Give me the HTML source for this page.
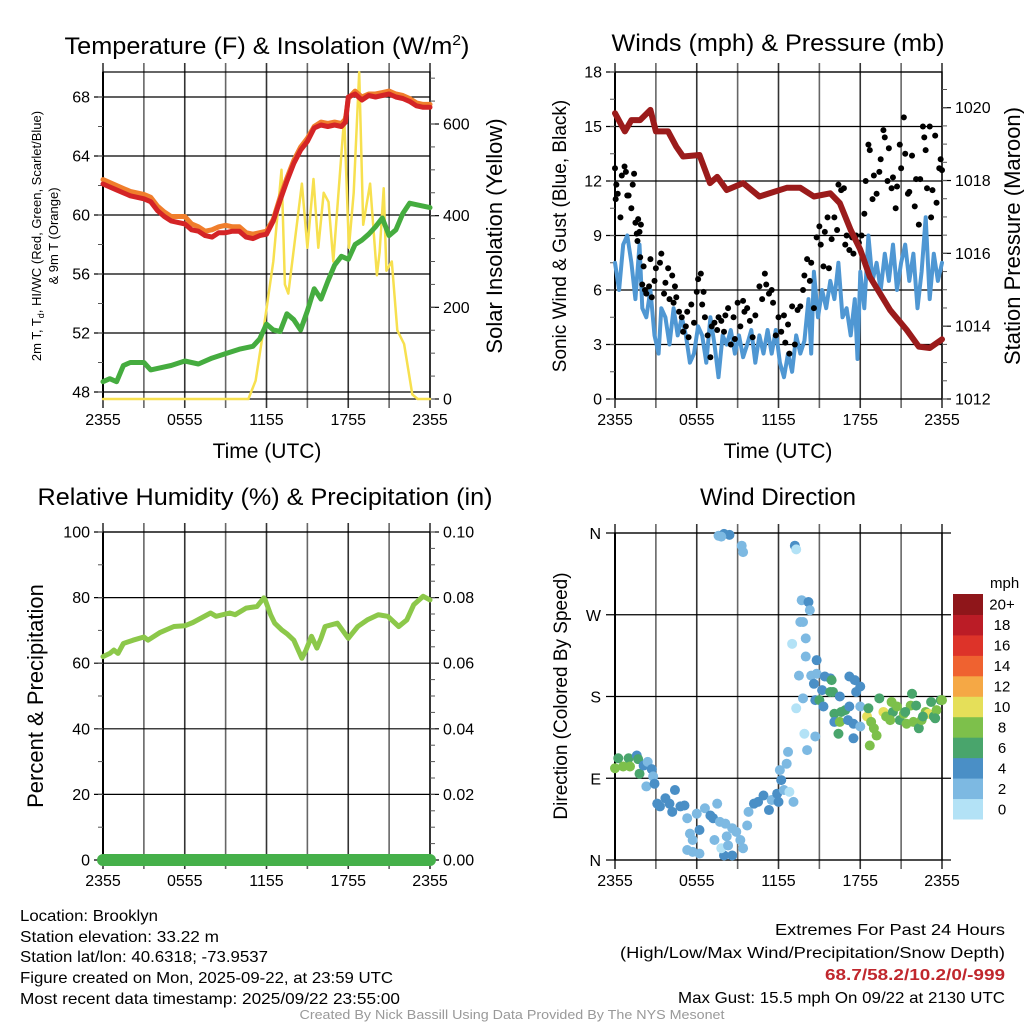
<!DOCTYPE html>
<html><head><meta charset="utf-8">
<style>
html,body{margin:0;padding:0;background:#fff;}
svg{display:block;font-family:"Liberation Sans",Arial,sans-serif;}
</style></head>
<body>
<svg id="fig" width="1024" height="1024" viewBox="0 0 1024 1024" xmlns="http://www.w3.org/2000/svg">
<rect width="1024" height="1024" fill="#fff"/>
<text x="267" y="54" font-size="24" text-anchor="middle" textLength="405" lengthAdjust="spacingAndGlyphs">Temperature (F) &amp; Insolation (W/m<tspan font-size="15" dy="-9">2</tspan><tspan dy="9">)</tspan></text>
<text x="778" y="51" font-size="24" text-anchor="middle" textLength="333" lengthAdjust="spacingAndGlyphs">Winds (mph) &amp; Pressure (mb)</text>
<text x="265" y="505" font-size="24" text-anchor="middle" textLength="455" lengthAdjust="spacingAndGlyphs">Relative Humidity (%) &amp; Precipitation (in)</text>
<text x="778" y="505" font-size="24" text-anchor="middle">Wind Direction</text>

<text x="267" y="458" font-size="21" text-anchor="middle">Time (UTC)</text>
<text x="778" y="458" font-size="21" text-anchor="middle">Time (UTC)</text>

<text transform="translate(41,236) rotate(-90)" font-size="13" text-anchor="middle">2m T, T<tspan font-size="9" dy="3">d</tspan><tspan dy="-3">, HI/WC (Red, Green, Scarlet/Blue)</tspan></text>
<text transform="translate(58,236) rotate(-90)" font-size="13" text-anchor="middle">&amp; 9m T (Orange)</text>
<text transform="translate(502,236) rotate(-90)" font-size="22" text-anchor="middle">Solar Insolation (Yellow)</text>
<text transform="translate(566,236) rotate(-90)" font-size="19" text-anchor="middle">Sonic Wind &amp; Gust (Blue, Black)</text>
<text transform="translate(1020,236) rotate(-90)" font-size="22" text-anchor="middle">Station Pressure (Maroon)</text>
<text transform="translate(43,696) rotate(-90)" font-size="22" text-anchor="middle">Percent &amp; Precipitation</text>
<text transform="translate(567,696) rotate(-90)" font-size="19" text-anchor="middle">Direction (Colored By Speed)</text>

<g font-size="16">
<text x="20" y="921" textLength="138" lengthAdjust="spacingAndGlyphs">Location: Brooklyn</text>
<text x="20" y="942" textLength="199" lengthAdjust="spacingAndGlyphs">Station elevation: 33.22 m</text>
<text x="20" y="962" textLength="248" lengthAdjust="spacingAndGlyphs">Station lat/lon: 40.6318; -73.9537</text>
<text x="20" y="983" textLength="373" lengthAdjust="spacingAndGlyphs">Figure created on Mon, 2025-09-22, at 23:59 UTC</text>
<text x="20" y="1004" textLength="380" lengthAdjust="spacingAndGlyphs">Most recent data timestamp: 2025/09/22 23:55:00</text>
</g>
<g font-size="16" text-anchor="end">
<text x="1005" y="935" textLength="230" lengthAdjust="spacingAndGlyphs">Extremes For Past 24 Hours</text>
<text x="1005" y="958" textLength="385" lengthAdjust="spacingAndGlyphs">(High/Low/Max Wind/Precipitation/Snow Depth)</text>
<text x="1005" y="980" fill="#c0272d" font-weight="bold" textLength="180" lengthAdjust="spacingAndGlyphs">68.7/58.2/10.2/0/-999</text>
<text x="1005" y="1003" textLength="327" lengthAdjust="spacingAndGlyphs">Max Gust: 15.5 mph On 09/22 at 2130 UTC</text>
</g>
<text x="512" y="1019" font-size="12.5" fill="#999" text-anchor="middle" textLength="425" lengthAdjust="spacingAndGlyphs">Created By Nick Bassill Using Data Provided By The NYS Mesonet</text>
<g id="layer"></g>
</svg>
<script>
// ---- data ----
const xTickLabels = ["2355","0555","1155","1755","2355"];
const tempHours = [0,0.5,1,1.5,2,2.5,3,3.5,4,4.5,5,5.5,6,6.5,7,7.5,8,8.5,9,9.5,10,10.5,11,11.5,12,12.5,13,13.5,14,14.5,15,15.5,16,16.5,17,17.5,17.8,18,18.5,19,19.5,20,20.5,21,21.5,22,22.5,23,23.5,24];
const tempRed = [62.1,61.9,61.7,61.5,61.3,61.2,61.1,60.9,60.3,59.9,59.6,59.5,59.4,59.0,58.9,58.6,58.5,58.8,58.8,58.9,58.9,58.5,58.4,58.6,58.7,59.6,61.0,62.3,63.5,64.4,65.0,65.9,66.1,66.0,66.1,66.0,66.3,68.0,68.2,67.8,68.1,68.0,68.1,68.2,68.0,67.9,67.7,67.4,67.3,67.3];
const tempOrange = [62.4,62.2,62.0,61.8,61.6,61.5,61.4,61.2,60.6,60.2,59.9,59.9,59.9,59.4,59.2,58.9,59.0,59.2,59.3,59.2,59.2,58.8,58.7,58.8,58.9,59.7,61.2,62.5,63.7,64.6,65.2,66.0,66.3,66.2,66.3,66.2,66.5,67.9,68.4,68.0,68.2,68.2,68.3,68.4,68.2,68.1,67.9,67.6,67.5,67.5];
const dewHours = [0,0.5,1,1.5,2,3,3.5,4,5,6,7,8,9,10,11,11.5,12,12.5,13,13.5,14,14.5,15,15.5,16,16.5,17,17.5,18,18.5,19,19.5,20,20.5,21,21.5,22,22.5,23,24];
const dewPoint = [48.7,48.9,48.7,49.8,50.0,50.0,49.5,49.6,49.8,50.1,49.9,50.3,50.6,50.9,51.1,51.6,52.6,52.2,52.1,53.3,52.9,52.2,53.5,55.0,54.3,55.5,56.6,57.2,57.0,58.0,58.3,58.7,59.2,59.8,58.6,59.0,60.1,60.8,60.7,60.5];
const solarHours = [0,10.67,11.2,11.77,12.5,13.1,13.35,13.6,14.1,14.6,15.0,15.45,15.8,16.2,16.55,16.9,17.7,18.05,18.4,18.8,19.1,19.6,20.1,20.3,20.6,20.8,21.2,21.6,22.1,22.7,23.1,24];
const solarValues = [0,0,40,150,300,500,250,230,350,470,330,480,330,450,430,300,615,330,450,713,380,470,270,320,460,280,300,150,120,10,0,0];
const tempTicks = [48,52,56,60,64,68];
const solarTicks = [0,200,400,600];

const windHours = [0,0.3,0.6,0.9,1.2,1.5,1.8,2.0,2.3,2.6,2.9,3.2,3.4,3.7,4.0,4.3,4.6,4.9,5.2,5.5,5.8,6.1,6.4,6.7,7.0,7.3,7.6,7.9,8.2,8.5,8.8,9.1,9.4,9.7,10.0,10.3,10.6,10.9,11.2,11.5,11.8,12.1,12.4,12.7,13.0,13.3,13.6,13.9,14.2,14.4,14.6,14.9,15.2,15.5,15.8,16.1,16.4,16.7,17.0,17.3,17.6,17.8,18.0,18.3,18.6,18.9,19.2,19.5,19.8,20.1,20.4,20.7,21.0,21.3,21.6,21.9,22.2,22.5,22.8,23.1,23.4,23.7,24.0];
const windSpeed = [7.5,6.0,8.5,9.0,7.5,5.5,8.5,5.0,4.5,6.0,3.5,2.5,5.0,4.5,3.0,5.0,3.5,4.5,3.5,2.0,2.5,4.0,3.5,2.0,4.5,3.0,1.2,3.5,3.0,3.8,2.5,3.5,2.3,3.0,3.8,2.0,3.5,2.5,3.8,2.5,3.8,2.0,1.2,2.5,1.5,3.5,2.5,3.2,5.5,2.5,7.0,4.5,6.0,5.0,6.5,5.5,7.5,4.5,5.0,3.5,5.5,2.2,7.0,5.0,9.0,6.5,7.5,6.0,8.0,6.5,8.5,6.0,7.5,8.5,6.5,8.0,5.0,7.0,10.0,5.5,8.0,6.5,7.5];
const gustHours = [0,0.05,0.1,0.2,0.4,0.5,0.7,0.8,0.9,1.0,1.2,1.3,1.4,1.5,1.6,1.7,1.65,1.8,1.9,1.85,2.1,2.0,2.2,2.3,2.5,2.6,2.7,2.9,3.0,3.4,3.3,3.6,3.7,3.9,4.0,4.2,4.3,4.4,4.5,4.7,4.9,5.0,5.2,5.3,5.4,5.6,5.8,6.0,6.1,6.3,6.4,6.5,6.6,6.8,7.0,7.1,7.3,7.5,7.6,7.8,8.0,8.1,8.3,8.5,8.7,8.8,9.0,9.2,9.4,9.5,9.7,9.9,10.1,10.3,10.6,10.8,11.0,11.1,11.3,11.5,11.6,11.8,12.0,12.2,12.4,12.5,12.7,12.8,13.0,13.2,13.4,13.6,13.8,13.9,14.1,14.3,14.4,14.6,14.8,15.0,15.1,15.3,15.4,15.6,15.7,15.9,16.1,16.3,16.4,16.6,16.8,16.9,17.0,17.2,17.4,17.5,17.7,17.9,18.1,18.3,18.4,18.6,18.7,18.9,19.0,19.2,19.4,19.5,19.7,19.8,20.0,20.1,20.3,20.4,20.6,20.7,20.9,21.0,21.2,21.3,21.5,21.6,21.8,22.0,22.1,22.3,22.4,22.6,22.7,22.8,22.9,23.1,23.2,23.3,23.5,23.6,23.8,23.9,24.0];
const gustSpeed = [12.7,11.0,11.8,11.3,10.0,12.3,12.8,12.5,11.2,11.2,10.5,11.8,12.4,9.7,9.1,9.9,8.7,9.2,9.6,7.8,7.3,6.3,6.0,5.8,6.2,7.7,5.6,6.5,7.2,8.0,7.5,5.8,6.4,7.2,5.5,6.8,5.3,6.2,5.6,4.8,4.5,3.7,4.0,4.8,3.4,5.2,4.2,5.9,6.6,6.9,5.2,5.9,4.5,3.5,2.3,4.0,4.2,3.8,4.5,4.3,3.7,4.6,5.0,3.0,4.5,3.3,5.3,4.0,5.4,4.8,5.0,4.3,3.4,4.6,6.2,5.5,6.9,6.3,5.8,6.0,5.3,3.5,4.5,3.7,4.6,3.1,4.1,2.5,5.1,3.0,4.9,5.1,6.0,6.8,7.7,6.5,7.5,5.0,8.9,9.5,8.5,7.3,9.2,10.0,7.2,8.8,10.0,9.3,11.8,11.5,11.6,8.5,9.0,8.2,8.9,8.0,9.0,8.6,9.0,10.2,12.0,14.0,13.7,11.0,12.3,11.3,12.5,13.2,14.8,14.4,12.0,13.8,11.6,12.2,10.5,11.7,14.0,12.7,15.5,13.5,11.3,11.4,13.4,10.6,12.1,9.6,12.1,15.0,14.4,13.7,11.6,15.0,10.0,11.5,14.5,10.8,12.7,13.2,12.6];
const presHours = [0,0.73,1.2,1.84,2.6,3.0,3.9,4.5,5.0,6.2,6.97,7.5,8.2,9.4,10.6,12.6,13.6,14.6,15.8,16.5,17.3,18.0,18.7,20.2,21.4,22.3,23.1,24.0];
const pressure = [1019.85,1019.35,1019.66,1019.66,1019.94,1019.35,1019.35,1018.93,1018.66,1018.7,1017.93,1018.1,1017.74,1017.93,1017.56,1017.8,1017.8,1017.56,1017.65,1017.38,1016.64,1016.1,1015.36,1014.44,1013.9,1013.44,1013.4,1013.64];
const windTicks = [0,3,6,9,12,15,18];
const presTicks = [1012,1014,1016,1018,1020];

const rhHours = [0,0.5,0.8,1.1,1.5,2.2,3.0,3.3,4.2,5.2,6.0,6.6,7.9,8.3,9.3,9.7,10.5,11.3,11.8,11.9,12.3,12.6,13.1,13.5,14.0,14.6,14.9,15.3,15.7,16.0,16.3,17.2,18.0,18.7,19.4,20.2,20.9,21.7,22.3,22.8,23.5,24];
const rhValues = [62,63,64,63,66,67,68,67,69.4,71.2,71.4,72.4,75.3,74.3,75.3,74.8,76.8,77.3,79.9,79.4,74.8,72.2,70.2,69,67,61.5,64,68.2,64.6,67.6,71.2,72.2,67.6,71.2,73.2,74.8,74.3,71.2,73.2,77.8,80.4,79.3];
const precipHours = [0,24];
const precipValues = [0,0];
const rhTicks = [0,20,40,60,80,100];
const precipTicks = ["0.00","0.02","0.04","0.06","0.08","0.10"];

const dirHours = [0,0.24,0.6,1.0,1.1,1.6,1.7,1.8,2.1,2.4,2.7,2.8,2.3,2.9,3.1,3.3,3.7,4.0,4.4,4.8,5.1,4.2,5.3,5.5,5.7,6.0,6.2,6.6,7.0,7.2,7.5,7.7,8.1,8.2,8.6,8.9,9.2,9.4,9.7,5.3,5.7,6.2,8.0,8.6,7.8,8.3,7.3,9.8,10.2,10.5,10.9,11.3,11.5,11.9,12.0,12.2,12.4,12.6,12.7,12.8,13.1,12.1,7.6,8.0,8.4,7.8,9.3,9.4,13.2,13.3,13.7,14.2,14.3,13.6,13.8,13.0,14.0,14.0,14.8,13.5,14.4,14.8,14.6,15.2,14.7,15.0,15.3,13.8,13.3,13.9,14.7,14.1,15.4,15.8,15.9,15.8,16.0,16.5,16.1,16.1,16.5,16.6,16.9,17.2,17.1,17.5,16.4,17.5,17.2,17.6,17.7,18.0,18.0,18.0,18.5,18.6,18.8,19.0,19.2,18.7,19.4,19.7,19.9,20.3,20.4,20.7,20.9,21.2,21.4,21.7,21.8,21.9,22.1,22.3,22.5,22.8,23.0,23.2,23.4,23.6,23.9,24.0,20.2,21.3,22.6,23.5];
const dirDegrees = [101,112,103,112,103,115,111,95,104,108,100,92,81,84,62,59,68,62,77,59,60,53,46,29,22,51,33,57,49,46,62,42,40,26,35,31,22,13,38,11,9,7,5,5,13,16,22,53,62,64,71,55,66,73,64,88,77,106,119,75,64,99,357,359,358,356,346,339,346,342,286,284,275,262,262,238,244,224,220,203,203,205,194,187,176,176,169,178,167,139,136,121,202,200,198,185,185,180,161,152,152,163,165,169,154,150,139,134,202,198,185,191,169,147,158,167,152,145,137,126,178,163,158,174,163,169,154,161,150,170,183,152,170,145,154,163,161,174,158,165,176,176,154,163,158,156];
const dirSpeed = [8,6,8,6,8,4,6,6,4,2,4,2,2,4,4,4,4,4,4,4,4,4,2,2,2,2,4,2,4,4,2,2,2,2,2,2,2,2,2,2,2,2,4,4,0,2,2,2,4,4,4,4,2,4,4,4,2,2,2,0,2,2,2,4,4,2,2,2,4,0,2,4,2,2,2,0,2,2,4,2,2,2,4,4,4,6,4,2,0,0,2,2,4,4,6,6,6,4,6,4,8,6,6,4,4,4,6,4,4,4,4,4,2,2,10,6,8,8,8,8,6,10,8,8,6,8,6,8,8,8,6,8,6,6,8,8,10,6,6,8,6,8,8,6,6,6];
const dirTickLabels = ["N","E","S","W","N"];
const colorbarLabels = ["0","2","4","6","8","10","12","14","16","18","20+"];
const speedColors = ["#b3e2f6","#7db9e2","#4a8fc6","#49a56c","#7dc04b","#e5df59","#f5a845","#ef6230","#dd3329","#bb1c26","#8f161a"];

// ---- rendering ----
const NS = "http://www.w3.org/2000/svg";
const layer = document.getElementById("layer");
function mk(tag, attrs, parent) {
  const e = document.createElementNS(NS, tag);
  for (const k in attrs) e.setAttribute(k, attrs[k]);
  (parent || layer).appendChild(e);
  return e;
}
function linScale(d0, d1, r0, r1) { return v => r0 + (v - d0) * (r1 - r0) / (d1 - d0); }

const P = {
  temp: {x0:103, x1:430, y0:72, y1:399},
  wind: {x0:615, x1:942, y0:72, y1:399},
  rh:   {x0:103, x1:430, y0:532, y1:860},
  dir:  {x0:615, x1:942, y0:533, y1:860}
};

function frame(p, name) {
  const g = mk("g", {});
  
  
  const xs = linScale(0, 24, p.x0, p.x1);
  for (let h = 0; h <= 24; h += 3) {
    const x = xs(h);
    mk("line", {x1:x, x2:x, y1:p.y0 - 9, y2:p.y1 + 9, stroke:(h % 6 === 0 ? "#333" : "#666"), "stroke-width":1.6}, g);
  }
  xTickLabels.forEach((lab, i) => {
    const t = mk("text", {x:xs(i * 6), y:p.y1 + 26, "font-size":16, "text-anchor":"middle"}, g);
    t.textContent = lab;
    
    
  });
  mk("rect", {x:p.x0, y:p.y0, width:p.x1 - p.x0, height:p.y1 - p.y0, fill:"none", stroke:"#000", "stroke-width":1.2}, g);
  mk("line", {x1:p.x0, x2:p.x0, y1:p.y0, y2:p.y1, stroke:"#000", "stroke-width":2}, g);
  return {g, xs};
}
function leftAxis(p, g, ticks, ys, minorStep, lo, hi, labels, name) {
  ticks.forEach((v, i) => {
    const y = ys(v);
    mk("line", {x1:p.x0 - 9, x2:p.x1, y1:y, y2:y, stroke:"#000", "stroke-width":1.2}, g);
    const t = mk("text", {x:p.x0 - 13, y:y + 5.5, "font-size":16, "text-anchor":"end"}, g);
    t.textContent = labels ? labels[i] : v;
    
    
  });
  for (let v = lo; v <= hi + 1e-9; v += minorStep) {
    const y = ys(v);
    if (y < p.y0 - 0.5 || y > p.y1 + 0.5) continue;
    mk("line", {x1:p.x0 - 5, x2:p.x0, y1:y, y2:y, stroke:"#555", "stroke-width":1}, g);
  }
}
function rightAxis(p, g, ticks, ys, minorStep, lo, hi, labels, name) {
  ticks.forEach((v, i) => {
    const y = ys(v);
    mk("line", {x1:p.x1, x2:p.x1 + 9, y1:y, y2:y, stroke:"#000", "stroke-width":1.2}, g);
    const t = mk("text", {x:p.x1 + 13, y:y + 5.5, "font-size":16, "text-anchor":"start"}, g);
    t.textContent = labels ? labels[i] : v;
    
    
  });
  for (let v = lo; v <= hi + 1e-9; v += minorStep) {
    const y = ys(v);
    if (y < p.y0 - 0.5 || y > p.y1 + 0.5) continue;
    mk("line", {x1:p.x1, x2:p.x1 + 5, y1:y, y2:y, stroke:"#555", "stroke-width":1}, g);
  }
}
function series(hours, vals, xs, ys, color, w, name) {
  const pts = hours.map((h, i) => xs(h).toFixed(1) + "," + ys(vals[i]).toFixed(1)).join(" ");
  const pl = mk("polyline", {points:pts, fill:"none", stroke:color, "stroke-width":w, "stroke-linejoin":"round", "stroke-linecap":"round"});
  
  
  return pl;
}

// Panel 1: temperature
{
  const p = P.temp, f = frame(p, "temperature");
  const ys = linScale(48, 68, 392, 97);
  const ysSolar = linScale(0, 600, 399, 124);
  leftAxis(p, f.g, tempTicks, ys, 2, 46, 70, null, "temperature-y");
  rightAxis(p, f.g, solarTicks, ysSolar, 50, 0, 750, null, "solar-y");
  series(solarHours, solarValues, f.xs, ysSolar, "#f7e04f", 2.5, "solar-insolation-line");
  series(dewHours, dewPoint, f.xs, ys, "#45ac3f", 5, "dewpoint-line");
  series(tempHours, tempOrange, f.xs, ys, "#f07e2c", 5, "temperature-9m-line");
  series(tempHours, tempRed, f.xs, ys, "#d42426", 5, "temperature-2m-line");
}
// Panel 2: wind
{
  const p = P.wind, f = frame(p, "wind");
  const ys = linScale(0, 18, 399, 72);
  const ysP = linScale(1012, 1020, 399, 107.7);
  leftAxis(p, f.g, windTicks, ys, 1.5, 0, 18, null, "wind-y");
  rightAxis(p, f.g, presTicks, ysP, 0.5, 1012, 1021, null, "pressure-y");
  series(windHours, windSpeed, f.xs, ys, "#4f97d3", 4, "sonic-wind-line");
  const dg = mk("g", {});
  
  
  gustHours.forEach((h, i) => {
    const c = mk("circle", {cx:f.xs(h), cy:ys(gustSpeed[i]), r:3, fill:"#000"}, dg);
    
    
  });
  series(presHours, pressure, f.xs, ysP, "#9b1b1b", 6, "station-pressure-line");
}
// Panel 3: humidity
{
  const p = P.rh, f = frame(p, "humidity");
  const ys = linScale(0, 100, 860, 532);
  const ysPr = linScale(0, 0.1, 860, 532);
  leftAxis(p, f.g, rhTicks, ys, 10, 0, 100, null, "humidity-y");
  rightAxis(p, f.g, [0,0.02,0.04,0.06,0.08,0.1], ysPr, 0.005, 0, 0.1, precipTicks, "precip-y");
  series(rhHours, rhValues, f.xs, ys, "#8cc84a", 5, "relative-humidity-line");
  series(precipHours, precipValues, f.xs, ysPr, "#45b04a", 12, "precipitation-line");
}
// Panel 4: direction
{
  const p = P.dir, f = frame(p, "direction");
  const ys = linScale(0, 360, 860, 533);
  [0,90,180,270,360].forEach((v, i) => {
    const y = ys(v);
    mk("line", {x1:p.x0 - 9, x2:p.x1 + 9, y1:y, y2:y, stroke:"#000", "stroke-width":1.2}, f.g);
    const t = mk("text", {x:p.x0 - 14, y:y + 6, "font-size":16, "text-anchor":"end"}, f.g);
    t.textContent = dirTickLabels[i];
    
    
  });
  const dg = mk("g", {});
  
  
  dirHours.forEach((h, i) => {
    const bin = Math.min(10, Math.max(0, Math.round(dirSpeed[i] / 2)));
    const c = mk("circle", {cx:f.xs(h), cy:ys(dirDegrees[i]), r:5, fill:speedColors[bin]}, dg);
    
    
  });
  // colorbar
  const cb = mk("g", {});
  
  
  const t0 = mk("text", {x:990, y:588, "font-size":15, "text-anchor":"start"}, cb);
  t0.textContent = "mph";
  
  
  const bh = (819 - 594) / colorbarLabels.length;
  colorbarLabels.forEach((lab, i) => {
    const y = 819 - (i + 1) * bh;
    const r = mk("rect", {x:953, y:y, width:30, height:bh + 0.5, fill:speedColors[i]}, cb);
    
    
    const t = mk("text", {x:1002, y:y + bh / 2 + 5.5, "font-size":15, "text-anchor":"middle"}, cb);
    t.textContent = lab;
    
    
  });
}
</script>
</body></html>
